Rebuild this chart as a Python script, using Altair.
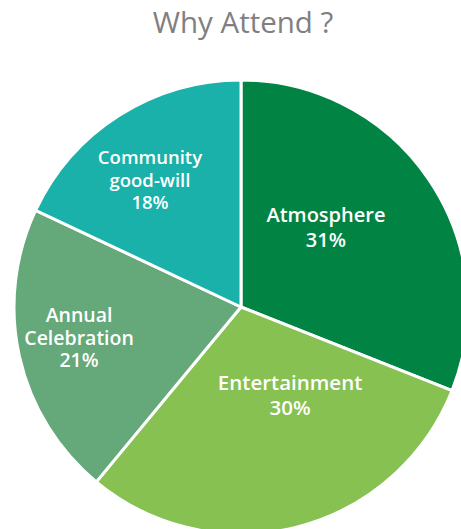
import altair as alt
import pandas as pd
import math

TITLE = "Why Attend ?"
names = ["Atmosphere", "Entertainment", "Annual Celebration", "Community good-will"]
label_lines = ["Atmosphere", "Entertainment", "Annual\nCelebration", "Community\ngood-will"]
values = [31, 30, 21, 18]
colors = ["#018443", "#86C152", "#65A87A", "#19B1A9"]

df = pd.DataFrame({
    "name": names,
    "value": values,
    "order": list(range(len(names))),
    "label": [f"{l}\n{v}%" for l, v in zip(label_lines, values)],
})

CX, CY, R = 241, 307, 227
TOTAL = sum(values)
theta_scale = alt.Scale(domain=[0, TOTAL], range=[0, 2 * math.pi])

pie = alt.Chart(df).mark_arc(radius=R, stroke="white", strokeWidth=3).encode(
    theta=alt.Theta("value:Q", stack=True, scale=theta_scale),
    order=alt.Order("order:Q"),
    x=alt.value(CX),
    y=alt.value(CY),
    color=alt.Color("name:N", scale=alt.Scale(domain=names, range=colors), legend=None),
)

# per-label placement (radius, angular offset in radians, line height, font size)
place = {
    "Atmosphere": (124.5, -0.223, 25, 20),
    "Entertainment": (91.3, -0.316, 25, 20.5),
    "Annual Celebration": (162.2, 0.164, 22.5, 19.5),
    "Community good-will": (174.6, 0.017, 22.5, 18.5),
}

text_base = alt.Chart(df).transform_window(
    cum="sum(value)", sort=[alt.SortField("order")], frame=[None, 0]
).transform_calculate(
    mid="datum.cum - datum.value / 2"
)

layers = [pie]
for n in names:
    r, off, lh, fs = place[n]
    layers.append(
        text_base.transform_filter(alt.datum.name == n).mark_text(
            radius=r, thetaOffset=off, font="Open Sans", fontSize=fs, fontWeight=600,
            color="white", align="center", baseline="middle", lineBreak="\n", lineHeight=lh,
        ).encode(
            theta=alt.Theta("mid:Q", scale=theta_scale),
            x=alt.value(CX),
            y=alt.value(CY),
            text="label:N",
        )
    )

title = alt.Chart(pd.DataFrame({"t": [TITLE]})).mark_text(
    font="Open Sans", fontSize=29.5, color="#808080", align="center", baseline="alphabetic"
).encode(text="t:N", x=alt.value(243), y=alt.value(33))
layers.append(title)

chart = alt.layer(*layers).properties(
    width=461, height=529, autosize=alt.AutoSizeParams(type="none"), padding=0
).configure_view(stroke=None)

chart.save("out.html", embed_options={"renderer": "svg", "actions": False})
